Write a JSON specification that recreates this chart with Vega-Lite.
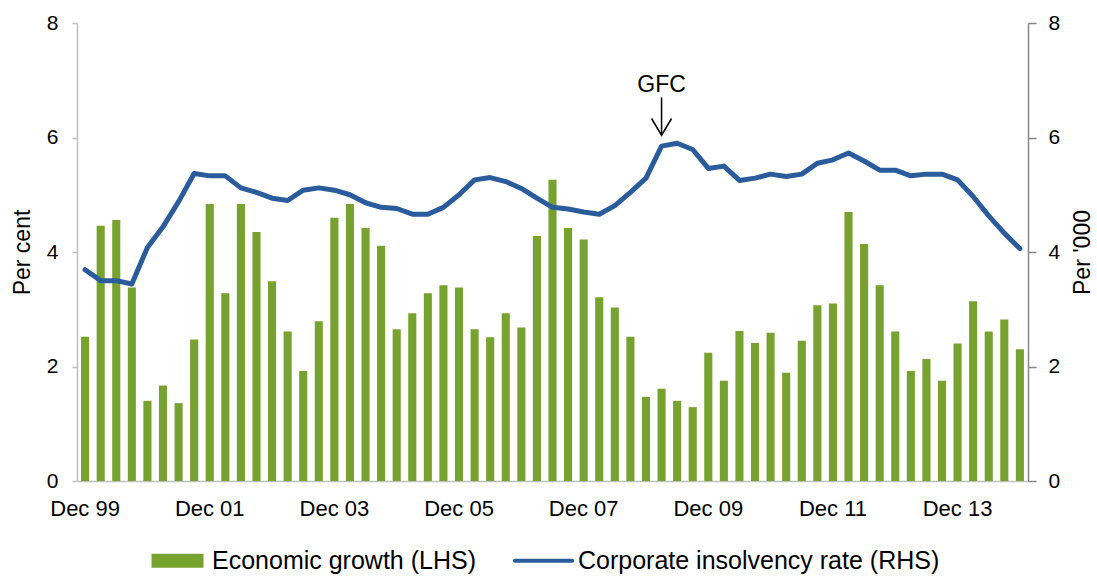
{
  "$schema": "https://vega.github.io/schema/vega-lite/v6.json",
  "width": 951,
  "height": 458,
  "autosize": {"type": "none"},
  "padding": {"left": 77, "top": 23, "right": 69, "bottom": 95},
  "background": "white",
  "config": {
    "view": {"stroke": null},
    "font": "Liberation Sans",
    "axis": {"grid": false, "labelFont": "Liberation Sans", "titleFont": "Liberation Sans", "labelColor": "#000000", "titleColor": "#000000", "titleFontWeight": "normal", "labelFontSize": 21, "titleFontSize": 23},
    "legend": {"labelFont": "Liberation Sans", "layout": {"bottom": {"anchor": "middle"}}}
  },
  "datasets": {
    "quarters": [
      {"quarter": "Dec 99", "growth": 2.52, "insolvency": 3.69},
      {"quarter": "Mar 00", "growth": 4.46, "insolvency": 3.50},
      {"quarter": "Jun 00", "growth": 4.56, "insolvency": 3.50},
      {"quarter": "Sep 00", "growth": 3.38, "insolvency": 3.44},
      {"quarter": "Dec 00", "growth": 1.40, "insolvency": 4.08},
      {"quarter": "Mar 01", "growth": 1.67, "insolvency": 4.44},
      {"quarter": "Jun 01", "growth": 1.36, "insolvency": 4.88},
      {"quarter": "Sep 01", "growth": 2.47, "insolvency": 5.37},
      {"quarter": "Dec 01", "growth": 4.84, "insolvency": 5.33},
      {"quarter": "Mar 02", "growth": 3.28, "insolvency": 5.33},
      {"quarter": "Jun 02", "growth": 4.84, "insolvency": 5.12},
      {"quarter": "Sep 02", "growth": 4.35, "insolvency": 5.04},
      {"quarter": "Dec 02", "growth": 3.49, "insolvency": 4.94},
      {"quarter": "Mar 03", "growth": 2.61, "insolvency": 4.90},
      {"quarter": "Jun 03", "growth": 1.92, "insolvency": 5.08},
      {"quarter": "Sep 03", "growth": 2.79, "insolvency": 5.12},
      {"quarter": "Dec 03", "growth": 4.60, "insolvency": 5.08},
      {"quarter": "Mar 04", "growth": 4.84, "insolvency": 5.00},
      {"quarter": "Jun 04", "growth": 4.42, "insolvency": 4.86},
      {"quarter": "Sep 04", "growth": 4.11, "insolvency": 4.78},
      {"quarter": "Dec 04", "growth": 2.65, "insolvency": 4.76},
      {"quarter": "Mar 05", "growth": 2.93, "insolvency": 4.66},
      {"quarter": "Jun 05", "growth": 3.28, "insolvency": 4.66},
      {"quarter": "Sep 05", "growth": 3.42, "insolvency": 4.78},
      {"quarter": "Dec 05", "growth": 3.38, "insolvency": 5.00},
      {"quarter": "Mar 06", "growth": 2.65, "insolvency": 5.26},
      {"quarter": "Jun 06", "growth": 2.51, "insolvency": 5.30},
      {"quarter": "Sep 06", "growth": 2.93, "insolvency": 5.23},
      {"quarter": "Dec 06", "growth": 2.68, "insolvency": 5.11},
      {"quarter": "Mar 07", "growth": 4.28, "insolvency": 4.94},
      {"quarter": "Jun 07", "growth": 5.26, "insolvency": 4.78},
      {"quarter": "Sep 07", "growth": 4.42, "insolvency": 4.75},
      {"quarter": "Dec 07", "growth": 4.22, "insolvency": 4.70},
      {"quarter": "Mar 08", "growth": 3.21, "insolvency": 4.66},
      {"quarter": "Jun 08", "growth": 3.03, "insolvency": 4.81},
      {"quarter": "Sep 08", "growth": 2.52, "insolvency": 5.04},
      {"quarter": "Dec 08", "growth": 1.47, "insolvency": 5.29},
      {"quarter": "Mar 09", "growth": 1.61, "insolvency": 5.85},
      {"quarter": "Jun 09", "growth": 1.40, "insolvency": 5.90},
      {"quarter": "Sep 09", "growth": 1.29, "insolvency": 5.79},
      {"quarter": "Dec 09", "growth": 2.24, "insolvency": 5.46},
      {"quarter": "Mar 10", "growth": 1.75, "insolvency": 5.50},
      {"quarter": "Jun 10", "growth": 2.62, "insolvency": 5.25},
      {"quarter": "Sep 10", "growth": 2.41, "insolvency": 5.29},
      {"quarter": "Dec 10", "growth": 2.59, "insolvency": 5.36},
      {"quarter": "Mar 11", "growth": 1.89, "insolvency": 5.32},
      {"quarter": "Jun 11", "growth": 2.45, "insolvency": 5.36},
      {"quarter": "Sep 11", "growth": 3.07, "insolvency": 5.55},
      {"quarter": "Dec 11", "growth": 3.10, "insolvency": 5.61},
      {"quarter": "Mar 12", "growth": 4.70, "insolvency": 5.73},
      {"quarter": "Jun 12", "growth": 4.14, "insolvency": 5.59},
      {"quarter": "Sep 12", "growth": 3.42, "insolvency": 5.43},
      {"quarter": "Dec 12", "growth": 2.61, "insolvency": 5.43},
      {"quarter": "Mar 13", "growth": 1.92, "insolvency": 5.33},
      {"quarter": "Jun 13", "growth": 2.13, "insolvency": 5.36},
      {"quarter": "Sep 13", "growth": 1.75, "insolvency": 5.36},
      {"quarter": "Dec 13", "growth": 2.40, "insolvency": 5.26},
      {"quarter": "Mar 14", "growth": 3.14, "insolvency": 4.97},
      {"quarter": "Jun 14", "growth": 2.61, "insolvency": 4.63},
      {"quarter": "Sep 14", "growth": 2.82, "insolvency": 4.33},
      {"quarter": "Dec 14", "growth": 2.30, "insolvency": 4.06}
    ]
  },
  "data": {"name": "quarters"},
  "encoding": {
    "x": {
      "field": "quarter",
      "type": "nominal",
      "sort": null,
      "scale": {"paddingInner": 0.48, "paddingOuter": 0.26},
      "axis": {
        "title": null,
        "values": ["Dec 99", "Dec 01", "Dec 03", "Dec 05", "Dec 07", "Dec 09", "Dec 11", "Dec 13"],
        "labelAngle": 0,
        "ticks": false,
        "domainColor": "#bfbfbf",
        "domainWidth": 1.5,
        "labelPadding": 17,
        "labelFontSize": 22
      }
    }
  },
  "layer": [
    {
      "layer": [
        {
          "mark": {"type": "bar"},
          "encoding": {
            "y": {
              "field": "growth",
              "type": "quantitative",
              "title": "Per cent",
              "scale": {"domain": [0, 8]},
              "axis": {
                "title": "Per cent",
                "orient": "left",
                "values": [0, 2, 4, 6, 8],
                "format": "d",
                "tickSize": 5,
                "tickColor": "#bfbfbf",
                "tickWidth": 1.5,
                "domainColor": "#bfbfbf",
                "domainWidth": 1.5,
                "labelPadding": 14,
                "titlePadding": 12
              }
            },
            "color": {
              "datum": "Economic growth (LHS)",
              "type": "nominal",
              "scale": {
                "domain": ["Economic growth (LHS)", "Corporate insolvency rate (RHS)"],
                "range": ["#78a22f", "#2a5c9c"]
              },
              "legend": {
                "title": null,
                "orient": "bottom",
                "direction": "horizontal",
                "labelFontSize": 25,
                "labelColor": "#000000",
                "labelLimit": 600,
                "symbolSize": 196,
                "labelOffset": 22,
                "columnPadding": 30,
                "offset": 29,
                "encode": {
                  "symbols": {
                    "update": {
                      "shape": {"signal": "datum.value === 'Economic growth (LHS)' ? 'M-3.71,-1H3.71V1H-3.71Z' : 'M-4.1,0H4.1'"},
                      "fill": {"signal": "datum.value === 'Economic growth (LHS)' ? '#78a22f' : 'transparent'"},
                      "stroke": {"signal": "datum.value === 'Economic growth (LHS)' ? '#78a22f' : '#2a5c9c'"},
                      "strokeWidth": {"signal": "datum.value === 'Economic growth (LHS)' ? 0 : 4"},
                      "strokeCap": {"value": "round"}
                    }
                  }
                }
              }
            }
          }
        },
        {
          "data": {"values": [{"event": "GFC"}]},
          "mark": {"type": "text", "fontSize": 23, "font": "Liberation Sans", "color": "#000000", "baseline": "middle", "align": "center"},
          "encoding": {
            "x": {"datum": "Mar 09", "type": "nominal"},
            "y": {"datum": 6.92, "type": "quantitative", "title": "Per cent"},
            "text": {"field": "event", "type": "nominal"}
          }
        },
        {
          "data": {"values": [{"event": "GFC"}]},
          "mark": {"type": "rule", "color": "#000000", "strokeWidth": 1.5},
          "encoding": {
            "x": {"datum": "Mar 09", "type": "nominal"},
            "y": {"datum": 6.7, "type": "quantitative", "title": "Per cent"},
            "y2": {"datum": 6.06}
          }
        },
        {
          "data": {"values": [{"event": "GFC"}]},
          "mark": {"type": "point", "shape": "M-1,-1.67L0,0L1,-1.67", "size": 400, "filled": false, "color": "#000000", "strokeWidth": 1.5, "opacity": 1},
          "encoding": {
            "x": {"datum": "Mar 09", "type": "nominal"},
            "y": {"datum": 6.04, "type": "quantitative", "title": "Per cent"}
          }
        }
      ]
    },
    {
      "mark": {"type": "line", "strokeWidth": 5, "strokeJoin": "round", "strokeCap": "round"},
      "encoding": {
        "y": {
          "field": "insolvency",
          "type": "quantitative",
          "scale": {"domain": [0, 8]},
          "axis": {
            "title": "Per '000",
            "orient": "right",
            "values": [0, 2, 4, 6, 8],
            "format": "d",
            "tickSize": 8,
            "tickColor": "#868686",
            "tickWidth": 1.5,
            "domainColor": "#868686",
            "domainWidth": 1.5,
            "labelPadding": 12,
            "titlePadding": 12,
            "titleAngle": 270,
            "titleBaseline": "top"
          }
        },
        "color": {"datum": "Corporate insolvency rate (RHS)", "type": "nominal"}
      }
    }
  ],
  "resolve": {"scale": {"y": "independent"}}
}
